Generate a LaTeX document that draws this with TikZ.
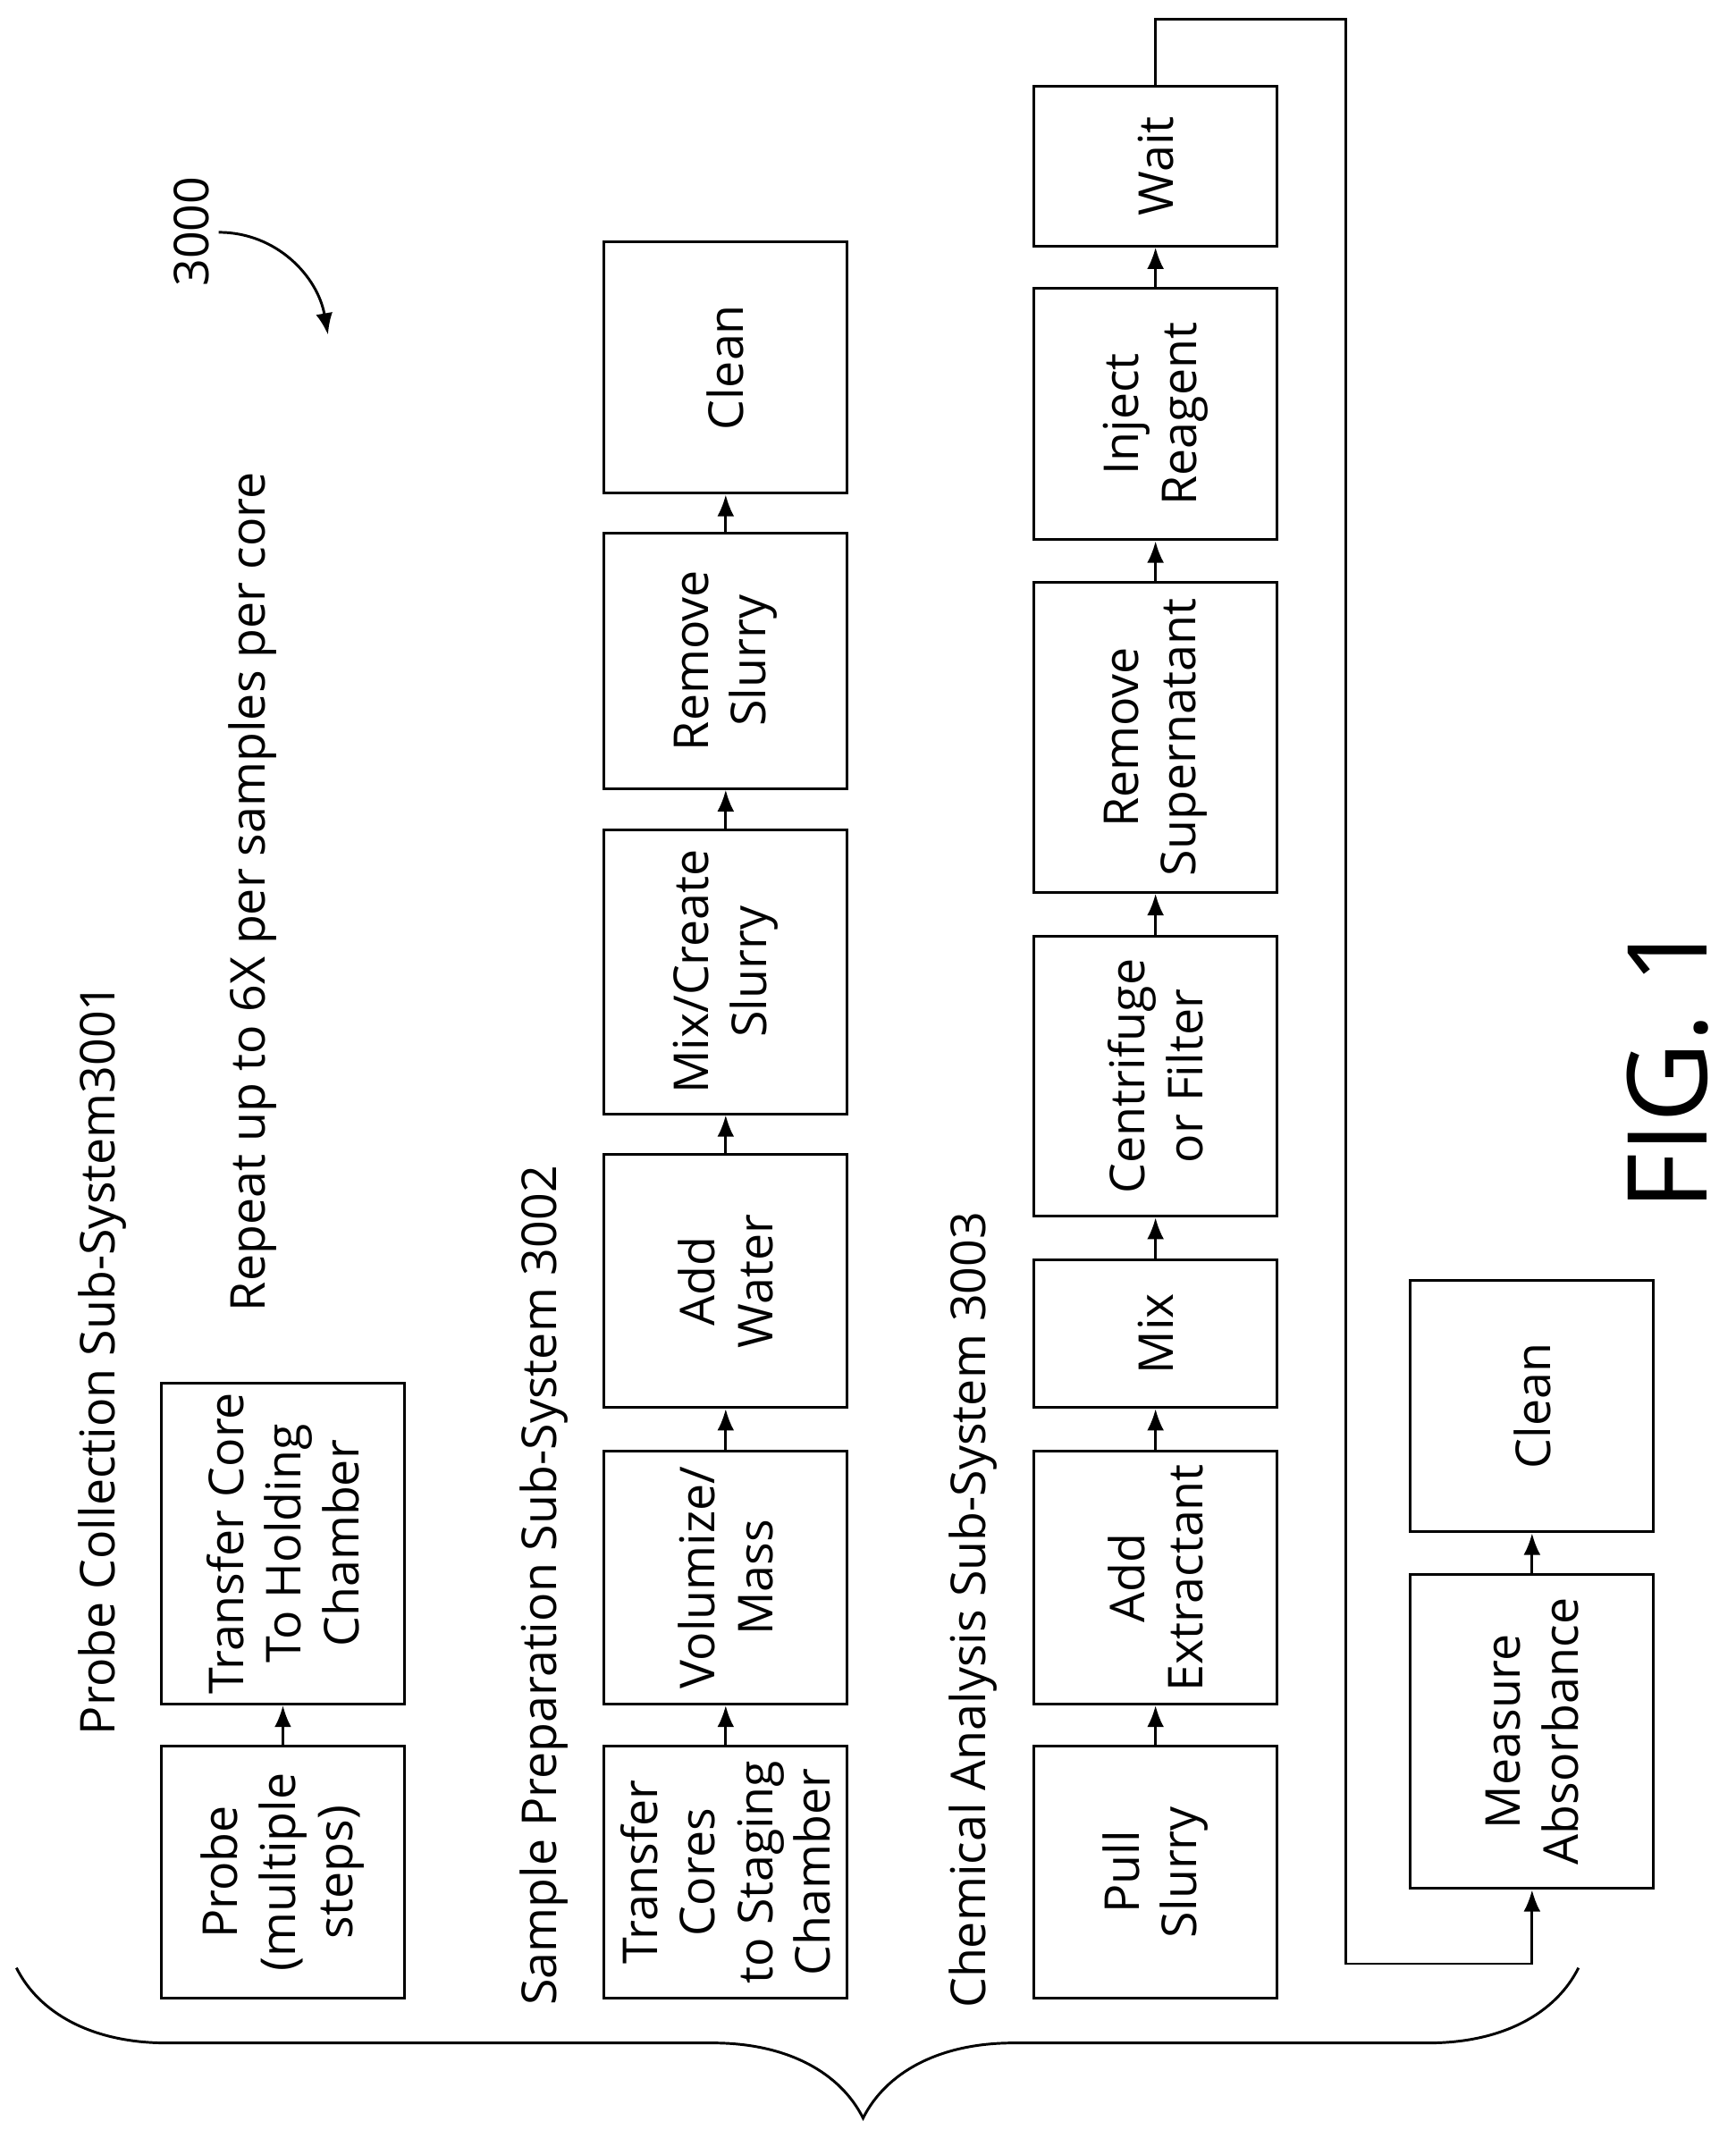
\documentclass[tikz,border=0pt]{standalone}
\usepackage{fontspec}
\setmainfont{Open Sans}
\usetikzlibrary{arrows.meta,decorations.pathreplacing}
\tikzset{
  stage/.style={draw,line width=1.1pt,rotate=90,align=center,
    minimum height=3.56cm,inner sep=2pt,font=\fontsize{20}{24}\selectfont},
  flow/.style={line width=1.1pt,-{Latex[length=9pt,width=7pt]}},
  heading/.style={rotate=90,anchor=west,inner sep=0pt,font=\fontsize{20}{24}\selectfont},
}

\begin{document}
\begin{tikzpicture}
\useasboundingbox (0,0) rectangle (25.4,-31.54);

% probe collection
\node[stage,minimum width=3.68cm] (probe) at (4.14,-27.4) {Probe\\(multiple\\steps)};
\node[stage,minimum width=4.7cm] (xfercore) at (4.14,-22.59) {Transfer Core\\To Holding\\Chamber};
\draw[flow] (probe.east) -- (xfercore.west);

% sample preparation
\node[stage,minimum width=3.68cm] (xfercores) at (10.62,-27.4) {Transfer\\Cores\\to Staging\\Chamber};
\node[stage,minimum width=3.7cm] (volumize) at (10.62,-23.09) {Volumize/\\Mass};
\node[stage,minimum width=3.7cm] (water) at (10.62,-18.75) {Add\\Water};
\node[stage,minimum width=4.16cm] (mixslurry) at (10.62,-14.22) {Mix/Create\\Slurry};
\node[stage,minimum width=3.74cm] (rmslurry) at (10.62,-9.67) {Remove\\Slurry};
\node[stage,minimum width=3.68cm] (clean-a) at (10.62,-5.38) {Clean};
\foreach \a/\b in {xfercores/volumize,volumize/water,water/mixslurry,mixslurry/rmslurry,rmslurry/clean-a}
  \draw[flow] (\a.east) -- (\b.west);

% chemical analysis
\node[stage,minimum width=3.68cm] (pull) at (16.91,-27.4) {Pull\\Slurry};
\node[stage,minimum width=3.7cm] (extract) at (16.91,-23.09) {Add\\Extractant};
\node[stage,minimum width=2.16cm] (mix) at (16.91,-19.52) {Mix};
\node[stage,minimum width=4.1cm] (centri) at (16.91,-15.75) {Centrifuge\\or Filter};
\node[stage,minimum width=4.54cm] (super) at (16.91,-10.79) {Remove\\Supernatant};
\node[stage,minimum width=3.68cm] (reagent) at (16.91,-6.06) {Inject\\Reagent};
\node[stage,minimum width=2.34cm] (wait) at (16.91,-2.43) {Wait};
\foreach \a/\b in {pull/extract,extract/mix,mix/centri,centri/super,super/reagent,reagent/wait}
  \draw[flow] (\a.east) -- (\b.west);

\node[stage,minimum width=4.6cm] (measure) at (22.42,-25.34) {Measure\\Absorbance};
\node[stage,minimum width=3.68cm] (clean-b) at (22.42,-20.58) {Clean};
\draw[flow] (measure.east) -- (clean-b.west);

\draw[flow] (wait.east) |- (19.7,-0.28) -- (19.7,-28.74) -| (measure.west);

% labels
\node[heading] (lbl-probe) at (1.5,-25.4) {Probe Collection Sub-System3001};
\node[heading] (lbl-repeat) at (3.7,-19.2) {Repeat up to 6X per samples per core};
\node[heading] (lbl-prep) at (7.96,-29.36) {Sample Preparation Sub-System 3002};
\node[heading] (lbl-chem) at (14.24,-29.4) {Chemical Analysis Sub-System 3003};
\node[heading] (lbl-num) at (2.8,-4.2) {3000};
\coordinate (num-end) at (4.8,-4.9);
\draw[flow] (3.2,-3.4) to[out=0,in=100] (num-end);
\node[rotate=90,font=\fontsize{46}{50}\selectfont] (fig) at (24.4,-15.6) {FIG. 1};

% brace
\draw[line width=1.1pt,decorate,decoration={brace,amplitude=2.2cm,aspect=0.458}]
  (23.1,-28.8) -- (0.24,-28.8);
\end{tikzpicture}
\end{document}
